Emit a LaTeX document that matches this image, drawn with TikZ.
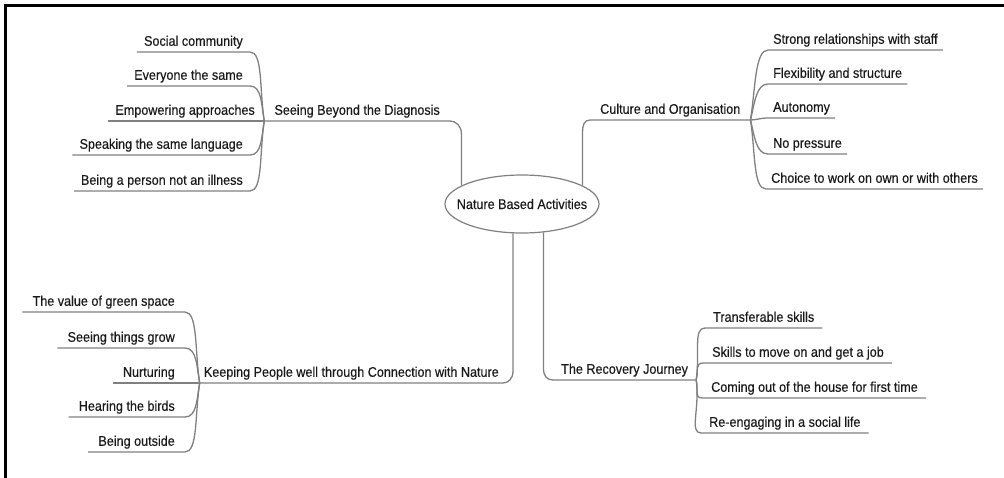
\documentclass[tikz,border=0pt]{standalone}
\usepackage{fontspec}
\setmainfont{Liberation Sans}[FakeStretch=0.9,FakeBold=0.4]
\usetikzlibrary{shapes.geometric,calc}
\definecolor{txt}{HTML}{1A1A1A}
\definecolor{ln}{HTML}{808080}
\tikzset{
  lbl/.style={font=\fontsize{14}{16}\selectfont, text=txt, text depth=0pt, inner ysep=6pt, inner xsep=7pt},
  conn/.style={draw=ln, line width=1.3pt},
  hub/.style={ellipse, draw=ln, line width=1.2pt, minimum width=154pt, minimum height=58pt, inner xsep=-14pt, inner ysep=0pt, font=\fontsize{14}{16}\selectfont, text=txt},
  frame/.style={line width=3pt, draw=black}
}
\begin{document}
\begin{tikzpicture}[x=1pt,y=1pt]
\useasboundingbox (0,0) rectangle (1004,-477);
\draw[frame] (5,-480) -- (5,-5) -- (1010,-5);

\node[hub] (ell) at (522,-204) {Nature Based Activities};

% main branches
\node[lbl, anchor=south east, inner xsep=10pt] (seeing) at (450,-121) {Seeing Beyond the Diagnosis};
\node[lbl, anchor=south west, inner xsep=10pt] (culture) at (590,-120) {Culture and Organisation};
\node[lbl, anchor=south east, inner xsep=4pt] (keep) at (503,-383) {Keeping People well through Connection with Nature};
\node[lbl, anchor=south west, inner xsep=8pt] (rec) at (553,-380) {The Recovery Journey};

\draw[conn] (ell.163) -- ($(ell.163 |- seeing.south east)+(0,-13)$) .. controls +(0,8) and +(6,0) .. (seeing.south east) -- (seeing.south west);
\draw[conn] (ell.17) -- ($(ell.17 |- culture.south west)+(0,-13)$) .. controls +(0,8) and +(-6,0) .. (culture.south west) -- (culture.south east);
\draw[conn] (ell.253) -- ($(ell.253 |- keep.south east)+(0,12)$) .. controls +(0,-8) and +(5,0) .. (keep.south east) -- (keep.south west);
\draw[conn] (ell.307) -- ($(ell.307 |- rec.south west)+(0,12)$) .. controls +(0,-8) and +(-6,0) .. (rec.south west) -- (rec.south east);

% Seeing Beyond children
\node[lbl, anchor=south east] (s1) at (250,-52) {Social community};
\node[lbl, anchor=south east] (s2) at (250,-86) {Everyone the same};
\node[lbl, anchor=south east] (s3) at (262,-121) {Empowering approaches};
\node[lbl, anchor=south east] (s4) at (250,-155) {Speaking the same language};
\node[lbl, anchor=south east] (s5) at (250,-191) {Being a person not an illness};
\draw[conn] (seeing.south west) .. controls +(-5,32) and +(13,0) .. (s1.south east) -- (s1.south west);
\draw[conn] (seeing.south west) .. controls +(-3,16) and +(12,0) .. (s2.south east) -- (s2.south west);
\draw[conn] (seeing.south west) -- (s3.south east) -- (s3.south west);
\draw[conn] (seeing.south west) .. controls +(-3,-16) and +(12,0) .. (s4.south east) -- (s4.south west);
\draw[conn] (seeing.south west) .. controls +(-5,-32) and +(13,0) .. (s5.south east) -- (s5.south west);

% Culture children
\node[lbl, anchor=south west, inner xsep=5pt] (c1) at (768,-50) {Strong relationships with staff};
\node[lbl, anchor=south west, inner xsep=5pt] (c2) at (768,-84) {Flexibility and structure};
\node[lbl, anchor=south west, inner xsep=5pt] (c3) at (768,-118) {Autonomy};
\node[lbl, anchor=south west, inner xsep=5pt] (c4) at (768,-154) {No pressure};
\node[lbl, anchor=south west, inner xsep=5pt] (c5) at (766,-189) {Choice to work on own or with others};
\draw[conn] (culture.south east) .. controls +(5,32) and +(-13,0) .. (c1.south west) -- (c1.south east);
\draw[conn] (culture.south east) .. controls +(4,16) and +(-12,0) .. (c2.south west) -- (c2.south east);
\draw[conn] (culture.south east) .. controls +(6,0) and +(-8,0) .. (c3.south west) -- (c3.south east);
\draw[conn] (culture.south east) .. controls +(4,-16) and +(-12,0) .. (c4.south west) -- (c4.south east);
\draw[conn] (culture.south east) .. controls +(5,-32) and +(-13,0) .. (c5.south west) -- (c5.south east);

% Keeping People children
\node[lbl, anchor=south east, inner xsep=10pt] (k1) at (185,-312) {The value of green space};
\node[lbl, anchor=south east, inner xsep=10pt] (k2) at (185,-348) {Seeing things grow};
\node[lbl, anchor=south east, inner xsep=10pt] (k3) at (185,-383) {Nurturing};
\node[lbl, anchor=south east, inner xsep=10pt] (k4) at (185,-417) {Hearing the birds};
\node[lbl, anchor=south east, inner xsep=10pt] (k5) at (185,-452) {Being outside};
\draw[conn] (keep.south west) .. controls +(-5,32) and +(13,0) .. (k1.south east) -- (k1.south west);
\draw[conn] (keep.south west) .. controls +(-3,16) and +(12,0) .. (k2.south east) -- (k2.south west);
\draw[conn] (keep.south west) -- (k3.south east) -- (k3.south west);
\draw[conn] (keep.south west) .. controls +(-3,-16) and +(12,0) .. (k4.south east) -- (k4.south west);
\draw[conn] (keep.south west) .. controls +(-5,-32) and +(13,0) .. (k5.south east) -- (k5.south west);

% Recovery children
\node[lbl, anchor=south west, inner xsep=8pt] (r1) at (705,-328) {Transferable skills};
\node[lbl, anchor=south west, inner xsep=8pt] (r2) at (704,-363) {Skills to move on and get a job};
\node[lbl, anchor=south west, inner xsep=8pt] (r3) at (703,-398) {Coming out of the house for first time};
\node[lbl, anchor=south west, inner xsep=8pt] (r4) at (701,-433) {Re-engaging in a social life};
\draw[conn] (rec.south east) .. controls +(4,28) and +(-12,0) .. (r1.south west) -- (r1.south east);
\draw[conn] (rec.south east) .. controls +(3,10) and +(-10,0) .. (r2.south west) -- (r2.south east);
\draw[conn] (rec.south east) .. controls +(3,-10) and +(-10,0) .. (r3.south west) -- (r3.south east);
\draw[conn] (rec.south east) .. controls +(4,-28) and +(-12,0) .. (r4.south west) -- (r4.south east);
\end{tikzpicture}
\end{document}
